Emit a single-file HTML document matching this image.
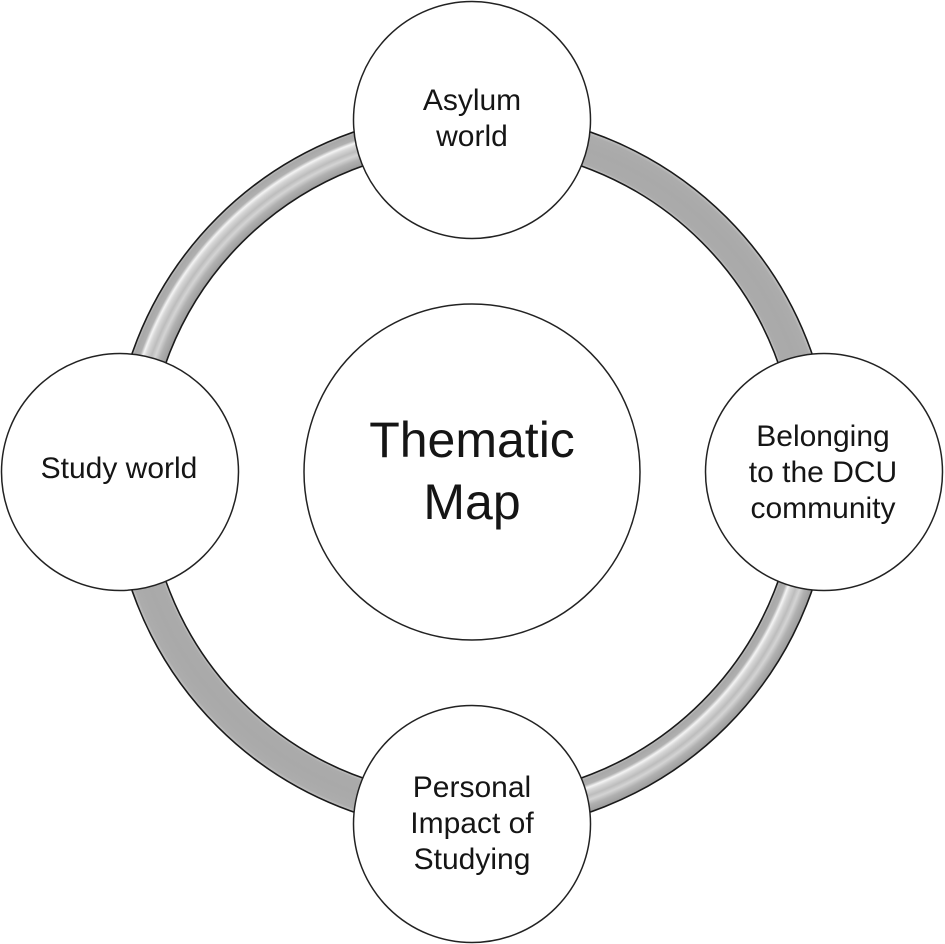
<!DOCTYPE html>
<html>
<head>
<meta charset="utf-8">
<style>
  html, body { margin: 0; padding: 0; background: #ffffff; }
  body { width: 945px; height: 944px; overflow: hidden; }
  svg { display: block; }
  text { font-family: "Liberation Sans", Arial, sans-serif; fill: #151515; }
</style>
</head>
<body>
<svg width="945" height="944" viewBox="0 0 945 944" xmlns="http://www.w3.org/2000/svg">
  <defs>
    <radialGradient id="flat" gradientUnits="userSpaceOnUse" cx="472" cy="472" r="360">
      <stop offset="0.9028" stop-color="#c6c6c6"/>
      <stop offset="0.9110" stop-color="#ababab"/>
      <stop offset="0.9500" stop-color="#a9a9a9"/>
      <stop offset="0.9900" stop-color="#acacac"/>
      <stop offset="1" stop-color="#c4c4c4"/>
    </radialGradient>
    <!-- highlight near outer edge (top-left) -->
    <radialGradient id="stripeA" gradientUnits="userSpaceOnUse" cx="472" cy="472" r="360">
      <stop offset="0.9028" stop-color="#9c9c9c"/>
      <stop offset="0.9222" stop-color="#b0b0b0"/>
      <stop offset="0.9361" stop-color="#d4d4d4"/>
      <stop offset="0.9472" stop-color="#bdbdbd"/>
      <stop offset="0.9611" stop-color="#d6d6d6"/>
      <stop offset="0.9694" stop-color="#f4f4f4"/>
      <stop offset="0.9778" stop-color="#b0b0b0"/>
      <stop offset="0.9917" stop-color="#a8a8a8"/>
      <stop offset="1" stop-color="#c0c0c0"/>
    </radialGradient>
    <!-- highlight near inner edge (bottom-right) -->
    <radialGradient id="stripeB" gradientUnits="userSpaceOnUse" cx="472" cy="472" r="360">
      <stop offset="0.9028" stop-color="#c0c0c0"/>
      <stop offset="0.9111" stop-color="#a8a8a8"/>
      <stop offset="0.9250" stop-color="#b0b0b0"/>
      <stop offset="0.9333" stop-color="#f4f4f4"/>
      <stop offset="0.9417" stop-color="#d6d6d6"/>
      <stop offset="0.9556" stop-color="#bdbdbd"/>
      <stop offset="0.9667" stop-color="#d4d4d4"/>
      <stop offset="0.9806" stop-color="#b0b0b0"/>
      <stop offset="1" stop-color="#9c9c9c"/>
    </radialGradient>
    <clipPath id="tl"><rect x="0" y="0" width="472" height="472"/></clipPath>
    <clipPath id="br"><rect x="472" y="472" width="473" height="472"/></clipPath>
  </defs>

  <!-- ring base -->
  <path fill="url(#flat)" fill-rule="evenodd"
        d="M 472 112 A 360 360 0 1 0 472 832 A 360 360 0 1 0 472 112 Z
           M 472 147 A 325 325 0 1 1 472 797 A 325 325 0 1 1 472 147 Z"/>
  <!-- striped quadrants -->
  <path fill="url(#stripeA)" fill-rule="evenodd" clip-path="url(#tl)"
        d="M 472 112 A 360 360 0 1 0 472 832 A 360 360 0 1 0 472 112 Z
           M 472 147 A 325 325 0 1 1 472 797 A 325 325 0 1 1 472 147 Z"/>
  <path fill="url(#stripeB)" fill-rule="evenodd" clip-path="url(#br)"
        d="M 472 112 A 360 360 0 1 0 472 832 A 360 360 0 1 0 472 112 Z
           M 472 147 A 325 325 0 1 1 472 797 A 325 325 0 1 1 472 147 Z"/>
  <!-- ring outlines -->
  <circle cx="472" cy="472" r="360" fill="none" stroke="#1a1a1a" stroke-width="1.6"/>
  <circle cx="472" cy="472" r="325" fill="none" stroke="#1a1a1a" stroke-width="1.6"/>

  <!-- center circle -->
  <circle cx="472" cy="472" r="168" fill="#ffffff" stroke="#222" stroke-width="1.5"/>
  <text x="472" y="457" font-size="50" text-anchor="middle">Thematic</text>
  <text x="472" y="519" font-size="50" text-anchor="middle">Map</text>

  <!-- top -->
  <circle cx="472" cy="120" r="118.5" fill="#ffffff" stroke="#222" stroke-width="1.5"/>
  <text x="472" y="110" font-size="30" text-anchor="middle">Asylum</text>
  <text x="472" y="146" font-size="30" text-anchor="middle">world</text>

  <!-- left -->
  <circle cx="120" cy="472" r="118.5" fill="#ffffff" stroke="#222" stroke-width="1.5"/>
  <text x="119" y="478" font-size="30" text-anchor="middle">Study world</text>

  <!-- right -->
  <circle cx="824" cy="472" r="118.5" fill="#ffffff" stroke="#222" stroke-width="1.5"/>
  <text x="823" y="446" font-size="30" text-anchor="middle">Belonging</text>
  <text x="823" y="482" font-size="30" text-anchor="middle">to the DCU</text>
  <text x="823" y="518" font-size="30" text-anchor="middle">community</text>

  <!-- bottom -->
  <circle cx="472" cy="824" r="118.5" fill="#ffffff" stroke="#222" stroke-width="1.5"/>
  <text x="472" y="797" font-size="30" text-anchor="middle">Personal</text>
  <text x="472" y="833" font-size="30" text-anchor="middle">Impact of</text>
  <text x="472" y="869" font-size="30" text-anchor="middle">Studying</text>
</svg>
</body>
</html>
